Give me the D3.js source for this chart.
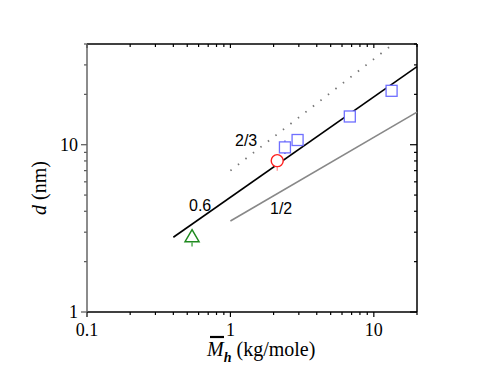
<!DOCTYPE html>
<head>
	<meta charset="utf-8">
	<style>
		body {margin: 0; background: #fff;}
		.tick-label {font-family: "Liberation Serif", serif; font-size: 18px;}
		.note {font-family: "Liberation Sans", Arial, sans-serif; font-size: 16px;}
	</style>
	<script src="https://d3js.org/d3.v7.min.js" charset="utf-8"></script>
</head>
<body>
	<script>
		// data
		var squareM = [2.4, 2.94, 6.8, 13.3];
		var squareD = [9.64, 10.67, 14.75, 21.0];
		var squareLo = [8.8, null, null, null];
		var squareHi = [10.6, null, null, null];
		var circleM = [2.12], circleD = [8.03], circleLo = [7.0];
		var triangleM = [0.54], triangleD = [2.84], triangleLo = [2.46];

		// power-law guides d = k * M^p
		var guides = [
			{name: "0.6", k: 4.85, p: 0.6, from: 0.4, to: 20},
			{name: "1/2", k: 3.5, p: 0.5, from: 1, to: 20},
			{name: "2/3", k: 7.0, p: 2/3, from: 1, to: 13}
		];
		var xTicks = [0.1, 1, 10];
		var yTicks = [1, 10];

		var margin = {top: 44, right: 68, bottom: 62, left: 87},
			width = 485, height = 374,
			w = width - margin.left - margin.right,
			h = height - margin.top - margin.bottom;

		var svg = d3.select("body").append("svg")
			.attr("width", width)
			.attr("height", height);
		var g = svg.append("g")
			.attr("transform", "translate(" + margin.left + "," + margin.top + ")");

		var x = d3.scaleLog().domain([0.1, 20]).range([0, w]);
		var y = d3.scaleLog().domain([1, 40]).range([h, 0]);

		var minorX = [], minorY = [];
		[0.1, 1, 10].forEach(function(b){
			for (var i = 2; i <= 9; i++) if (b * i <= 20) minorX.push(b * i);
		});
		[1, 10].forEach(function(b){
			for (var i = 2; i <= 9; i++) if (b * i <= 40) minorY.push(b * i);
		});

		function ticks(sel, scale, vals, len, horiz, offset, col){
			sel.selectAll(null).data(vals).enter().append("line")
				.attr("x1", function(d){return horiz ? scale(d) : offset;})
				.attr("x2", function(d){return horiz ? scale(d) : offset + len;})
				.attr("y1", function(d){return horiz ? offset : scale(d);})
				.attr("y2", function(d){return horiz ? offset + len : scale(d);})
				.attr("stroke", col).attr("stroke-width", 1.2);
		}
		var axes = g.append("g");
		// bottom & left ticks point out, top & right point in
		ticks(axes, x, xTicks, 5, true, h, "#000");
		ticks(axes, x, minorX, 3, true, h, "#000");
		ticks(axes, x, xTicks, 4, true, 0, "#000");
		ticks(axes, x, minorX, 3, true, 0, "#000");
		ticks(axes, y, yTicks, -6, false, 0, "#555");
		ticks(axes, y, minorY, -3, false, 0, "#555");
		ticks(axes, y, yTicks, -7, false, w, "#000");
		ticks(axes, y, minorY, -3, false, w, "#000");

		axes.append("line").attr("x1", 0).attr("x2", w).attr("y1", h).attr("y2", h)
			.attr("stroke", "#000").attr("stroke-width", 1.5);
		axes.append("line").attr("x1", 0).attr("x2", w).attr("y1", 0).attr("y2", 0)
			.attr("stroke", "#000").attr("stroke-width", 1.5);
		axes.append("line").attr("x1", 0).attr("x2", 0).attr("y1", 0).attr("y2", h)
			.attr("stroke", "#666").attr("stroke-width", 1.5);
		axes.append("line").attr("x1", w).attr("x2", w).attr("y1", 0).attr("y2", h)
			.attr("stroke", "#000").attr("stroke-width", 1.5);

		axes.selectAll(null).data(xTicks).enter().append("text")
			.attr("class", "tick-label")
			.attr("x", function(d){return x(d);})
			.attr("y", h + 24)
			.attr("text-anchor", "middle")
			.text(function(d){return d;});
		axes.selectAll(null).data(yTicks).enter().append("text")
			.attr("class", "tick-label")
			.attr("x", -9)
			.attr("y", function(d){return y(d) + 6;})
			.attr("text-anchor", "end")
			.text(function(d){return d;});

		// guide lines
		var lineGen = d3.line().x(function(d){return x(d[0]);}).y(function(d){return y(d[1]);});
		var styles = {
			"0.6": {stroke: "#000", width: 1.6, dash: null},
			"1/2": {stroke: "#888", width: 1.6, dash: null},
			"2/3": {stroke: "#777", width: 1.8, dash: "1.5,8"}
		};
		guides.forEach(function(gd){
			var pts = [gd.from, gd.to].map(function(m){return [m, gd.k * Math.pow(m, gd.p)];});
			var s = styles[gd.name];
			g.append("path").attr("d", lineGen(pts))
				.attr("fill", "none").attr("stroke", s.stroke)
				.attr("stroke-width", s.width)
				.attr("stroke-dasharray", s.dash);
		});

		g.append("text").attr("class", "note").attr("x", 148).attr("y", 102).text("2/3");
		g.append("text").attr("class", "note").attr("x", 102).attr("y", 167).text("0.6");
		g.append("text").attr("class", "note").attr("x", 183).attr("y", 170).text("1/2");

		// error bars
		function errBar(mArr, lo, hi, col){
			mArr.forEach(function(m, i){
				if (lo[i] != null) g.append("line")
					.attr("x1", x(m)).attr("x2", x(m))
					.attr("y1", y(lo[i])).attr("y2", y(lo[i]) - 4)
					.attr("stroke", col).attr("stroke-width", 1.2);
				if (hi && hi[i] != null) g.append("line")
					.attr("x1", x(m)).attr("x2", x(m))
					.attr("y1", y(hi[i])).attr("y2", y(hi[i]) + 4)
					.attr("stroke", col).attr("stroke-width", 1.2);
			});
		}
		errBar(squareM, squareLo, squareHi, "#3333dd");
		errBar(circleM, circleLo, null, "#ff8888");
		errBar(triangleM, triangleLo, null, "#2a9a2a");

		// markers
		g.selectAll(".sq").data(squareM).enter().append("rect")
			.attr("x", function(d){return x(d) - 5.5;})
			.attr("y", function(d, i){return y(squareD[i]) - 5.5;})
			.attr("width", 11).attr("height", 11)
			.attr("fill", "#fff").attr("stroke", "#6f6fff").attr("stroke-width", 1.3);
		g.selectAll(".ci").data(circleM).enter().append("circle")
			.attr("cx", function(d){return x(d);})
			.attr("cy", function(d, i){return y(circleD[i]);})
			.attr("r", 6)
			.attr("fill", "#fff").attr("stroke", "#ff2020").attr("stroke-width", 1.4);
		g.selectAll(".tr").data(triangleM).enter().append("path")
			.attr("transform", function(d, i){return "translate(" + x(d) + "," + y(triangleD[i]) + ")";})
			.attr("d", "M0,-6.5 L7,5.5 L-7,5.5 Z")
			.attr("fill", "#fff").attr("stroke", "#1f8a1f").attr("stroke-width", 1.5);

		// axis titles
		svg.append("text")
			.attr("transform", "translate(46,188) rotate(-90)")
			.attr("text-anchor", "middle")
			.style("font-family", "Liberation Serif, serif")
			.style("font-size", "20px")
			.html('<tspan font-style="italic">d</tspan> (nm)');

		var xt = svg.append("text")
			.attr("x", 207).attr("y", 356)
			.style("font-family", "Liberation Serif, serif")
			.style("font-size", "20px");
		xt.append("tspan").attr("font-style", "italic").text("M");
		xt.append("tspan").attr("font-style", "italic").attr("font-weight", "bold")
			.attr("font-size", "14px").attr("dy", 6).text("h");
		xt.append("tspan").attr("dy", -6).text(" (kg/mole)");
		svg.append("line")
			.attr("x1", 210).attr("x2", 224).attr("y1", 337).attr("y2", 337)
			.attr("stroke", "#000").attr("stroke-width", 2.2);
	</script>
</body>
</html>
